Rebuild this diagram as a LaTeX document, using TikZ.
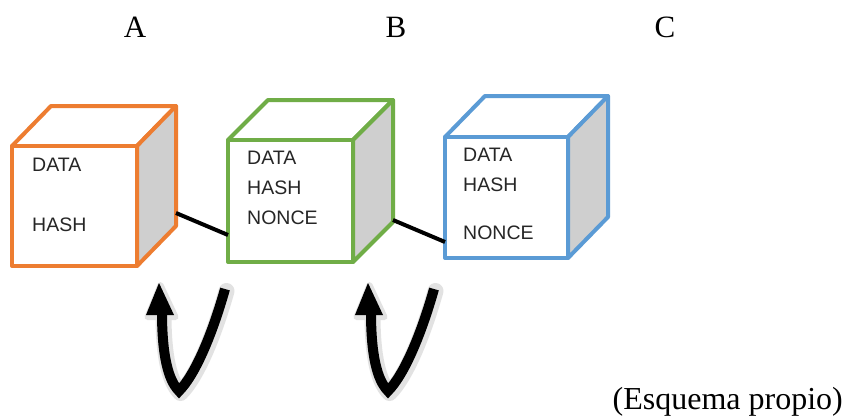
\documentclass[tikz,border=0pt]{standalone}
\usepackage{fontspec}
\setmainfont{Liberation Serif}
\newfontfamily\boxfont{Liberation Sans}
\definecolor{cubeorange}{HTML}{ED7D31}
\definecolor{cubegreen}{HTML}{70AD47}
\definecolor{cubeblue}{HTML}{5B9BD5}
\definecolor{sidegray}{HTML}{CFCFCF}
\definecolor{halo}{HTML}{E2E2E2}
\tikzset{
  cubeline/.style={line width=4pt, line join=round},
  boxtext/.style={font=\boxfont\fontsize{19.5}{22}\selectfont, text=black!85, anchor=west, inner sep=0pt},
  toplabel/.style={font=\fontsize{31}{36}\selectfont, anchor=base, inner sep=0pt},
  link/.style={line width=4pt, black},
}
% name, colour, x1, y1, x2, y2, depth x, depth y
\newcommand\mycube[8]{%
  \draw[cubeline,draw=#2,fill=white] (#3,#4) -- (#3+#7,#4-#8) -- (#5+#7,#4-#8) -- (#5,#4) -- cycle;
  \draw[cubeline,draw=#2,fill=sidegray] (#5,#4) -- (#5+#7,#4-#8) -- (#5+#7,#6-#8) -- (#5,#6) -- cycle;
  \node[cubeline,draw=#2,fill=white,inner sep=0pt,outer sep=0pt,
        minimum width=#5pt-#3pt, minimum height=#6pt-#4pt] (#1) at ({(#3+#5)/2},{(#4+#6)/2}) {};
}
\newcommand\looparrow[1]{%
  \begin{scope}[shift={(#1,0)}]
    \begin{scope}[shift={(1.5,2)}]
      \draw[halo, line width=16pt, line join=round, line cap=round]
        (225,289) .. controls (212,335) and (195,375) .. (179,391)
        .. controls (168,380) and (162,355) .. (162,313);
      \filldraw[halo, line width=6pt, line join=round] (146,315) -- (159,283) -- (174,315) -- cycle;
    \end{scope}
    \draw[black, line width=10pt, line join=miter]
      (225,289) .. controls (212,335) and (195,375) .. (179,391)
      .. controls (168,380) and (162,355) .. (162,312);
    \fill[black] (146,315) -- (159,283) -- (174,315) -- cycle;
  \end{scope}
}
\begin{document}
\begin{tikzpicture}[x=1pt,y=-1pt]
  \useasboundingbox (0,0) rectangle (843,415);
  \fill[white] (0,0) rectangle (843,415);

  \node[toplabel] (labA) at (135,37) {A};
  \node[toplabel] (labB) at (396,37) {B};
  \node[toplabel] (labC) at (665,37) {C};

  \looparrow{0}
  \looparrow{209}

  \mycube{cubeA}{cubeorange}{12}{146}{137}{266}{39}{40}
  \mycube{cubeB}{cubegreen}{228}{140}{353}{262}{40}{40}
  \mycube{cubeC}{cubeblue}{445}{137}{568}{258}{40}{41}

  \coordinate (aout) at (176,213);
  \coordinate (bin) at (228,235);
  \coordinate (bout) at (393,220);
  \coordinate (cin) at (445,242);
  \draw[link] (aout) -- (bin);
  \draw[link] (bout) -- (cin);

  \node[boxtext] (a1) at (32,165) {DATA};
  \node[boxtext] (a2) at (32,225) {HASH};
  \node[boxtext] (b1) at (247,158) {DATA};
  \node[boxtext] (b2) at (247,188) {HASH};
  \node[boxtext] (b3) at (247,218) {NONCE};
  \node[boxtext] (c1) at (463,155) {DATA};
  \node[boxtext] (c2) at (463,185) {HASH};
  \node[boxtext] (c3) at (463,233) {NONCE};

  \node[font=\fontsize{32}{36}\selectfont, anchor=base east, inner sep=0pt] (src) at (843,409) {(Esquema propio)};
\end{tikzpicture}
\end{document}
